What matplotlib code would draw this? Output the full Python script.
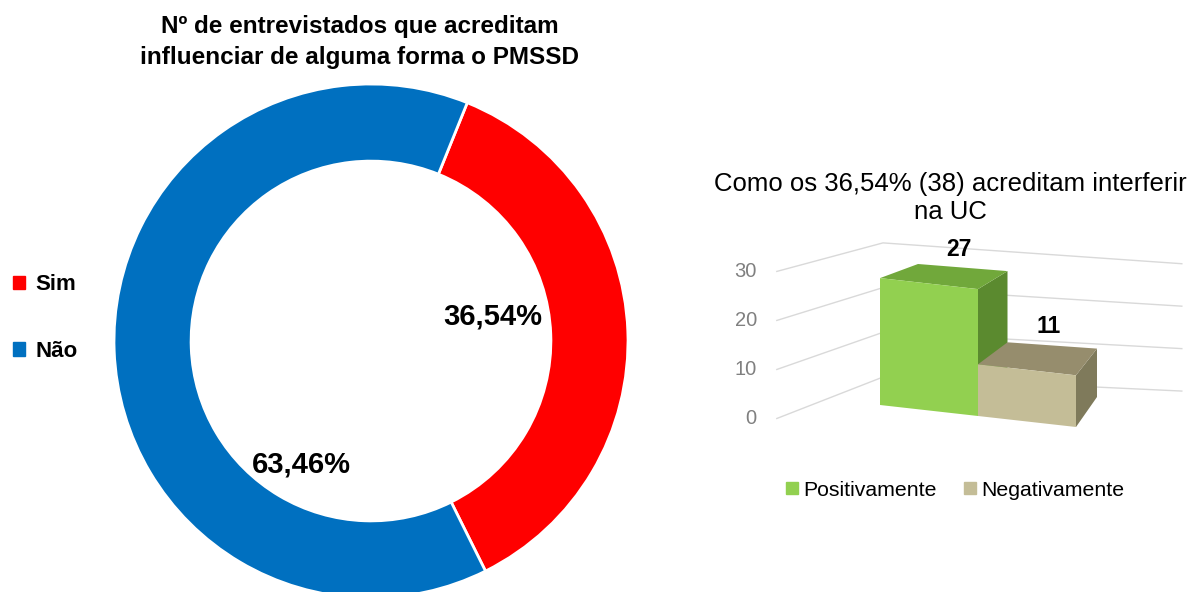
import matplotlib
matplotlib.use("Agg")
import matplotlib.pyplot as plt
from matplotlib.patches import Polygon, Patch

plt.rcParams['font.family'] = ['Liberation Sans', 'DejaVu Sans']

# donut data
donut_labels = ['Sim', 'Não']
donut_pct = [36.54, 63.46]
donut_colors = ['#FF0000', '#0070C0']

# 3d column data
bar_labels = ['Positivamente', 'Negativamente']
bar_values = [27, 11]
bar_front = ['#92D050', '#C4BD97']
bar_top = ['#71A83B', '#968D6D']
bar_side = ['#5B8A2F', '#7F7A5B']
y_ticks = [0, 10, 20, 30]

W, H = 1192, 592
fig = plt.figure(figsize=(W / 100, H / 100), dpi=100)

# ---- donut (left) ----
cx, cy, r = 371, 341, 257
ax1 = fig.add_axes([(cx - r) / W, (H - cy - r) / H, 2 * r / W, 2 * r / H])
wedges, _ = ax1.pie(donut_pct, colors=donut_colors, startangle=68,
                    counterclock=False, radius=1,
                    wedgeprops=dict(width=0.30, edgecolor='white', linewidth=2))
ax1.set_xlim(-1, 1)
ax1.set_ylim(-1, 1)
ax1.set_aspect('equal')
ax1.axis('off')

pct_pos = [(0.475, 0.097), (-0.272, -0.479)]
for (px, py), v in zip(pct_pos, donut_pct):
    ax1.text(px, py, f'{v:.2f}%'.replace('.', ','), ha='center', va='center',
             fontsize=21, fontweight='bold', color='black')

# ---- overlay axes in pixel units ----
ax = fig.add_axes([0, 0, 1, 1])
ax.set_xlim(0, W)
ax.set_ylim(H, 0)
ax.axis('off')

ax.text(360, 42, 'Nº de entrevistados que acreditam\ninfluenciar de alguma forma o PMSSD',
        ha='center', va='center', fontsize=17.5, fontweight='bold',
        linespacing=1.45)

leg1 = ax.legend([Patch(color=c) for c in donut_colors], donut_labels,
                 loc='center left', bbox_to_anchor=(13, 318),
                 bbox_transform=ax.transData, frameon=False,
                 prop={'weight': 'bold', 'size': 16}, handlelength=0.55,
                 handleheight=0.55, handletextpad=0.45, labelspacing=2.05,
                 borderpad=0, borderaxespad=0)
ax.add_artist(leg1)


# fake perspective for the column chart: x = category, d = depth, z = value
def proj(x, d, z):
    X = 880 + 98 * x + 38 * d - 8.5 * x * d
    Y = 405 + 11 * x - 19.5 * d - 5.25 * x * d
    h = 4.7 - 0.2 * d - 0.05 * x * d
    return X, Y - z * h


xw, df, db, xe = -0.544, -1.17, 1.32, 2.9

for t in y_ticks:
    pts = [proj(xw, df, t), proj(xw, db, t), proj(xe, db, t)]
    ax.plot([p[0] for p in pts], [p[1] for p in pts], color='#D9D9D9', lw=1,
            zorder=1)
    x0, y0 = pts[0]
    ax.text(x0 - 20, y0, str(t), ha='right', va='center', fontsize=14.5,
            color='#808080')

for i, v in enumerate(bar_values):
    side = [proj(i + 1, 0, 0), proj(i + 1, 1, 0), proj(i + 1, 1, v), proj(i + 1, 0, v)]
    top = [proj(i, 0, v), proj(i + 1, 0, v), proj(i + 1, 1, v), proj(i, 1, v)]
    front = [proj(i, 0, 0), proj(i + 1, 0, 0), proj(i + 1, 0, v), proj(i, 0, v)]
    for poly, col in ((side, bar_side[i]), (top, bar_top[i]), (front, bar_front[i])):
        ax.add_patch(Polygon(poly, closed=True, facecolor=col, edgecolor='none',
                             zorder=2 + i))
    lx, ly = proj(i + 0.5, 1, v)
    ax.text(lx - 4, ly - 7, str(v), ha='center', va='bottom', fontsize=16.5,
            fontweight='bold', zorder=5)

ax.text(950, 198, 'Como os 36,54% (38) acreditam interferir\nna UC',
        ha='center', va='center', fontsize=18.5, color='black',
        linespacing=1.17)

ax.legend([Patch(color=c) for c in bar_front], bar_labels, loc='center',
          bbox_to_anchor=(955, 490), bbox_transform=ax.transData, ncol=2,
          frameon=False, fontsize=15.3, handlelength=0.55, handleheight=0.55,
          handletextpad=0.25, columnspacing=1.3, borderpad=0, borderaxespad=0)

fig.savefig('out.png', dpi=100)
